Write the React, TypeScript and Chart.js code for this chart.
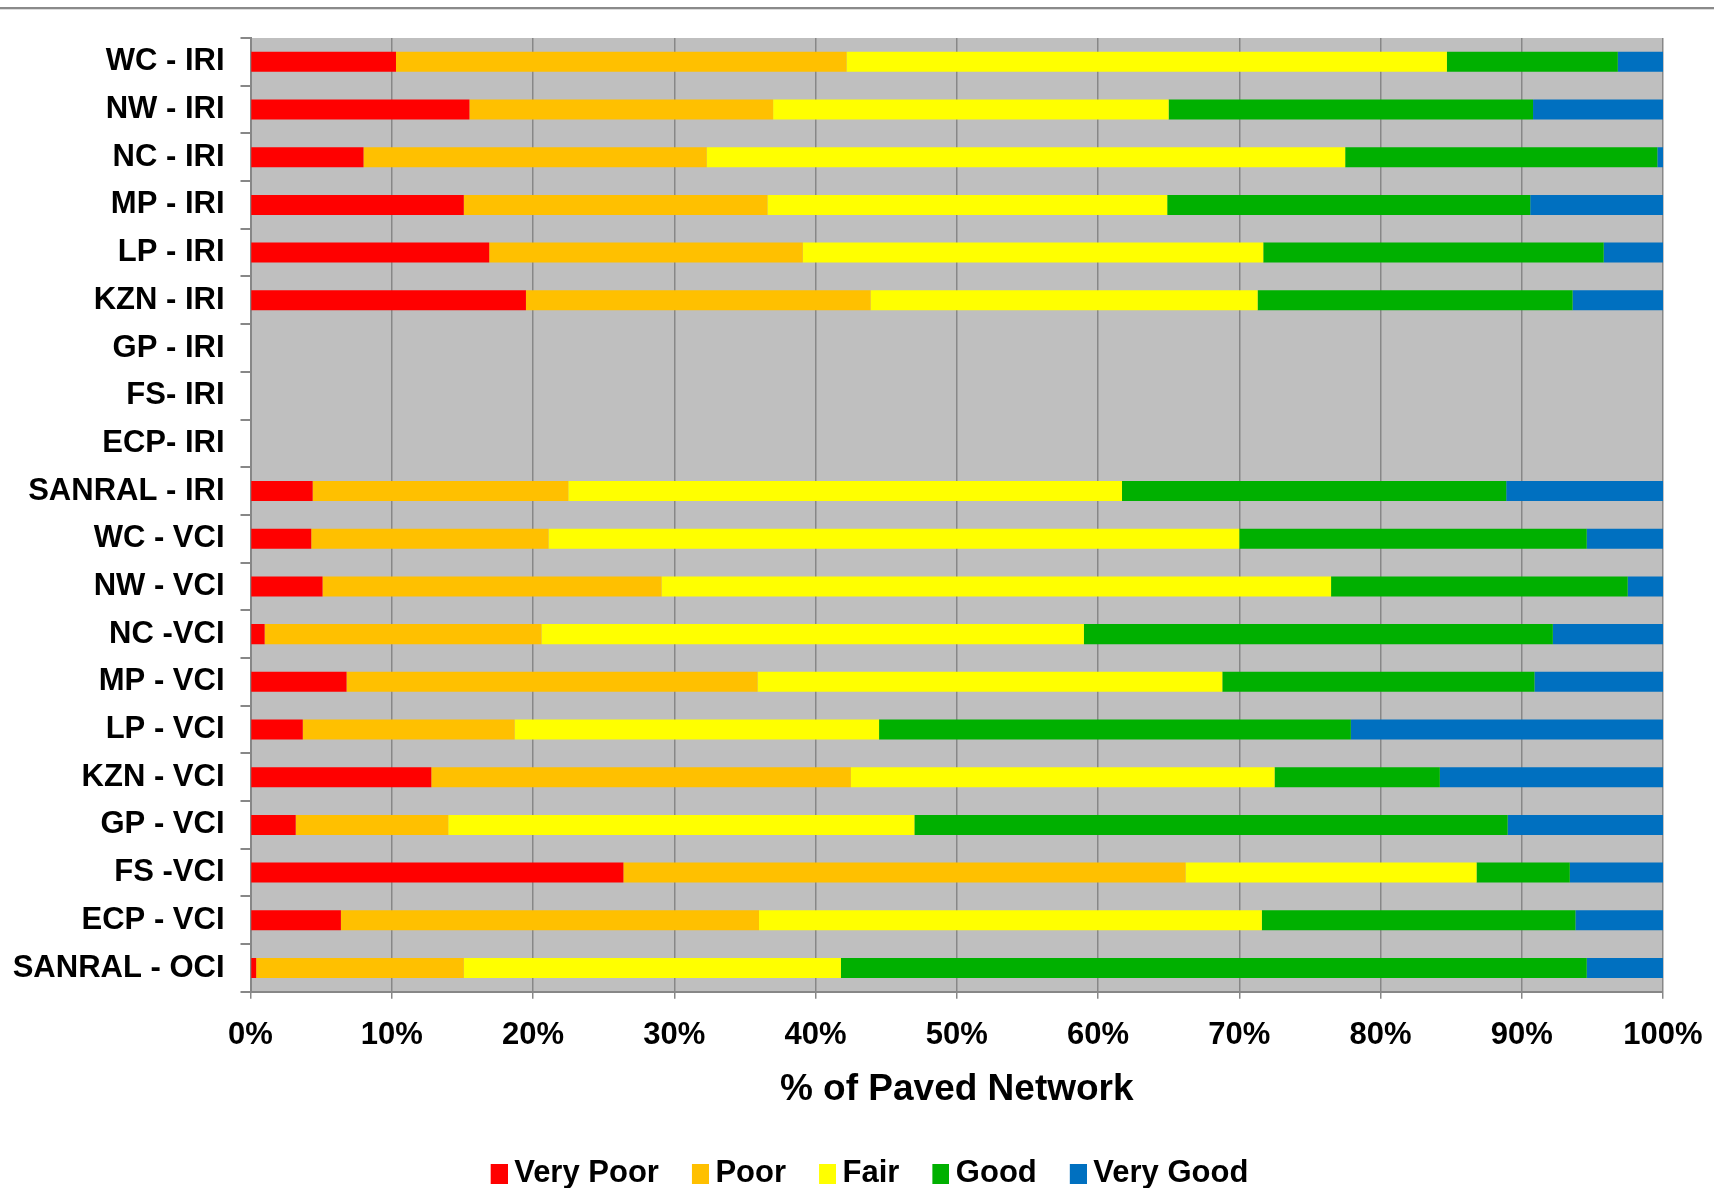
import React, { useEffect, useRef } from "react";
import { Chart, registerables } from "chart.js";

Chart.register(...registerables);

const categories = [
  "WC - IRI",
  "NW - IRI",
  "NC - IRI",
  "MP - IRI",
  "LP - IRI",
  "KZN - IRI",
  "GP - IRI",
  "FS- IRI",
  "ECP- IRI",
  "SANRAL - IRI",
  "WC - VCI",
  "NW - VCI",
  "NC -VCI",
  "MP - VCI",
  "LP - VCI",
  "KZN - VCI",
  "GP - VCI",
  "FS -VCI",
  "ECP - VCI",
  "SANRAL - OCI",
];

const veryPoor = [10.3, 15.5, 8.0, 15.1, 16.9, 19.5, null, null, null, 4.4, 4.3, 5.1, 1.0, 6.8, 3.7, 12.8, 3.2, 26.4, 6.4, 0.4];
const poor = [31.9, 21.5, 24.3, 21.5, 22.2, 24.4, null, null, null, 18.1, 16.8, 24.0, 19.6, 29.1, 15.0, 29.7, 10.8, 39.8, 29.6, 14.7];
const fair = [42.5, 28.0, 45.2, 28.3, 32.6, 27.4, null, null, null, 39.2, 48.9, 47.4, 38.4, 32.9, 25.8, 30.0, 33.0, 20.6, 35.6, 26.7];
const good = [12.1, 25.8, 22.1, 25.7, 24.1, 22.3, null, null, null, 27.2, 24.6, 21.0, 33.2, 22.1, 33.4, 11.7, 42.0, 6.6, 22.2, 52.8];
const veryGood = [3.2, 9.2, 0.4, 9.4, 4.2, 6.4, null, null, null, 11.1, 5.4, 2.5, 7.8, 9.1, 22.1, 15.8, 11.0, 6.6, 6.2, 5.4];

const seriesNames = ["Very Poor", "Poor", "Fair", "Good", "Very Good"];
const seriesColors = ["#FF0000", "#FFC000", "#FFFF00", "#00B000", "#0070C0"];
const xTickLabels = ["0%", "10%", "20%", "30%", "40%", "50%", "60%", "70%", "80%", "90%", "100%"];
const xAxisTitle = "% of Paved Network";

const FONT = "'Liberation Sans', Arial, Helvetica, sans-serif";

const plotBg = {
  id: "plotBg",
  beforeDraw(chart: any) {
    const { ctx, chartArea } = chart;
    if (!chartArea) return;
    ctx.save();
    ctx.fillStyle = "#BFBFBF";
    ctx.fillRect(chartArea.left, chartArea.top, chartArea.right - chartArea.left, chartArea.bottom - chartArea.top);
    ctx.restore();
  },
};

// shift the legend block slightly to the right, as in the reference
const legendShift = {
  id: "legendShift",
  afterLayout(chart: any) {
    const lg = chart.legend;
    if (lg) {
      lg.left += 38;
      lg.right += 38;
    }
  },
};

// legend swatch: 17x20 colour block placed so that it starts at the item's x
function makeSwatch(color: string) {
  const c = document.createElement("canvas");
  c.width = 26;
  c.height = 20;
  const g = c.getContext("2d");
  if (g) {
    g.fillStyle = color;
    g.fillRect(9, 0, 17, 20);
  }
  return c;
}

export default function App() {
  const ref = useRef<HTMLCanvasElement | null>(null);

  useEffect(() => {
    if (!ref.current) return;
    const values = [veryPoor, poor, fair, good, veryGood];
    const swatches = seriesColors.map(makeSwatch);
    const chart = new Chart(ref.current, {
      type: "bar",
      data: {
        labels: categories,
        datasets: values.map((d, i) => ({
          label: seriesNames[i],
          data: d,
          backgroundColor: seriesColors[i],
          borderWidth: 0,
          barPercentage: 0.42,
          categoryPercentage: 1,
        })),
      },
      options: {
        indexAxis: "y",
        responsive: false,
        animation: false,
        devicePixelRatio: 1,
        layout: { padding: { left: 0, right: 51, top: 38, bottom: -11 } },
        plugins: {
          legend: {
            position: "bottom",
            title: {
              display: true,
              text: " ",
              font: { size: 1 },
              padding: { top: 12, bottom: 0 },
            },
            labels: {
              font: { family: FONT, size: 31, weight: "bold" },
              color: "#000",
              usePointStyle: true,
              pointStyleWidth: 8,
              boxWidth: 8,
              boxHeight: 20,
              padding: 33,
              generateLabels: (ch: any) => {
                const items = (Chart.defaults as any).plugins.legend.labels.generateLabels(ch);
                return items.map((it: any, i: number) => ({ ...it, pointStyle: swatches[i], lineWidth: 0 }));
              },
            },
          },
          tooltip: { enabled: false },
        },
        scales: {
          x: {
            stacked: true,
            min: 0,
            max: 100,
            ticks: {
              stepSize: 10,
              maxRotation: 0,
              padding: 18,
              color: "#000",
              font: { family: FONT, size: 31, weight: "bold" },
              callback: (_v: any, i: number) => xTickLabels[i],
            },
            grid: { color: "#878787", lineWidth: 1.5, tickLength: 7, drawTicks: true },
            border: { color: "#878787", width: 2 },
            title: {
              display: true,
              text: xAxisTitle,
              color: "#000",
              font: { family: FONT, size: 37, weight: "bold", lineHeight: 0.94 },
              padding: { top: 0, bottom: 5 },
            },
            afterFit: (s: any) => {
              s.paddingRight = 0;
              s.paddingLeft = 0;
            },
          },
          y: {
            stacked: true,
            ticks: {
              autoSkip: false,
              padding: 16,
              color: "#000",
              font: { family: FONT, size: 31, weight: "bold" },
            },
            grid: { offset: true, drawOnChartArea: false, tickLength: 10, color: "#878787", lineWidth: 2 },
            border: { color: "#878787", width: 2 },
            afterFit: (s: any) => {
              s.width = 250.5;
            },
          },
        },
      },
      plugins: [plotBg, legendShift],
    } as any);
    return () => chart.destroy();
  }, []);

  return (
    <div style={{ position: "absolute", left: 0, top: 0, width: 1714, height: 1188, background: "#fff", overflow: "hidden" }}>
      <div style={{ position: "absolute", left: 0, top: 7, width: 1714, height: 2, background: "#8a8a8a" }} />
      <div style={{ position: "absolute", left: 0, top: 9, width: 1714, height: 1, background: "#dcdcdc" }} />
      <canvas ref={ref} width={1714} height={1188} style={{ position: "absolute", left: 0, top: 0, width: 1714, height: 1188 }} />
    </div>
  );
}
